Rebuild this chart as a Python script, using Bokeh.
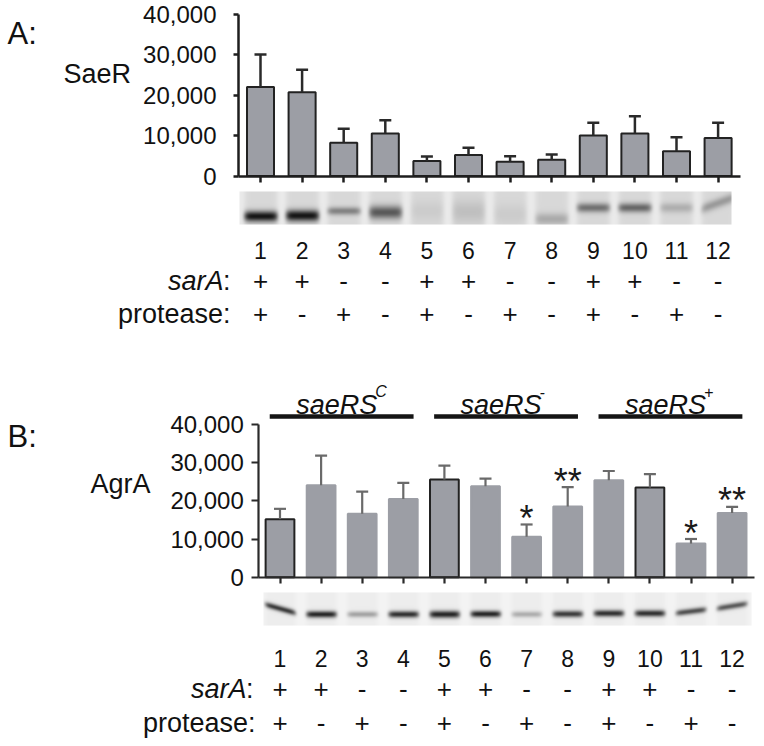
import numpy as np
from bokeh.plotting import figure
from bokeh.layouts import column
from bokeh.models import Range1d, LinearAxis, FixedTicker, NumeralTickFormatter
from bokeh.embed import file_html
from bokeh.resources import INLINE
from bokeh.core.properties import value

# ---------------- data ----------------
lanes = list(range(1, 13))
lane_labels = [str(i) for i in lanes]
sarA = ["+", "+", "-", "-", "+", "+", "-", "-", "+", "+", "-", "-"]
protease = ["+", "-", "+", "-", "+", "-", "+", "-", "+", "-", "+", "-"]
y_ticks = [0, 10000, 20000, 30000, 40000]

saeR_mean = [22000, 20700, 8200, 10500, 3700, 5200, 3500, 4000, 10000, 10500, 6100, 9400]
saeR_err = [8100, 5600, 3500, 3300, 1100, 1800, 1400, 1300, 3200, 4300, 3500, 3800]

agrA_mean = [15200, 24100, 16600, 20500, 25600, 23800, 10600, 18500, 25400, 23500, 8800, 16800]
agrA_err = [2700, 7700, 5800, 4200, 3600, 2000, 3200, 5100, 2400, 3500, 1200, 1600]
agrA_stars = ["", "", "", "", "", "", "*", "**", "", "", "*", "**"]
agrA_outlined = [True, False, False, False, True, False, False, False, False, True, False, False]

group_names = ["saeRS", "saeRS", "saeRS"]
group_sups = ["C", "-", "+"]
group_first = [1, 5, 9]
group_last = [4, 8, 12]

# western blot band descriptions (relative darkness, vertical position, thickness, tilt)
blotA_intensity = [0.95, 0.95, 0.42, 0.62, 0.06, 0.12, 0.06, 0.22, 0.5, 0.55, 0.2, 0.3]
blotA_position = [0.76, 0.74, 0.6, 0.64, 0.6, 0.62, 0.7, 0.84, 0.5, 0.5, 0.5, 0.36]
blotA_width = [0.16, 0.17, 0.12, 0.2, 0.3, 0.35, 0.3, 0.18, 0.14, 0.14, 0.15, 0.15]
blotA_tilt = [0, 0, 0, 0, 0, 0, 0, 0, 0, 0, 0, -0.45]

blotB_intensity = [0.85, 0.95, 0.35, 0.9, 0.95, 0.95, 0.3, 0.85, 0.9, 0.9, 0.75, 0.7]
blotB_position = [0.5, 0.67, 0.67, 0.67, 0.67, 0.66, 0.67, 0.66, 0.64, 0.64, 0.58, 0.42]
blotB_width = [0.09, 0.1, 0.09, 0.1, 0.11, 0.1, 0.09, 0.1, 0.1, 0.1, 0.09, 0.09]
blotB_tilt = [0.35, 0, 0, 0, 0, 0, 0, 0, 0, 0, -0.15, -0.2]

FONT = "Liberation Sans"
BAR_FILL = "#9c9ea5"
PAGE_W = 762


class Panel:
    """Maps reference-picture pixels to the panel's lane / value units."""
    def __init__(self, top, height, lane1_px, lane_step, zero_px, px_per_unit):
        self.top, self.height = top, height
        self.lane1_px, self.lane_step = lane1_px, lane_step
        self.zero_px, self.ppu = zero_px, px_per_unit

    def x(self, px):
        return 1 + (px - self.lane1_px) / self.lane_step

    def y(self, py):
        return (self.zero_px - py) / self.ppu

    def py(self, v):
        return self.zero_px - v * self.ppu

    def lw(self, px):
        return px / self.lane_step


def make_fig(P):
    p = figure(width=PAGE_W, height=P.height,
               x_range=Range1d(P.x(0), P.x(PAGE_W)),
               y_range=Range1d(P.y(P.top + P.height), P.y(P.top)),
               output_backend="svg", toolbar_location=None,
               x_axis_type=None, y_axis_type=None, min_border=0)
    p.outline_line_color = None
    p.background_fill_color = "white"
    p.border_fill_color = "white"
    return p


def txt(p, xs, ys, texts, size, align="center", baseline="middle", style="normal", color="#111111"):
    p.text(x=xs, y=ys, text=texts, text_font=value(FONT), text_font_size=f"{size}px",
           text_align=align, text_baseline=baseline, text_font_style=style, text_color=color)


def axes(p, P, axis_px, right_px, standoff, tick_len, width, color):
    yax = LinearAxis(fixed_location=P.x(axis_px), bounds=(0, 40000),
                     ticker=FixedTicker(ticks=y_ticks),
                     formatter=NumeralTickFormatter(format="0,0"))
    yax.major_label_text_font = FONT
    yax.major_label_text_font_size = "24px"
    yax.major_label_text_color = "#111111"
    yax.major_tick_out = tick_len
    yax.major_tick_in = 0
    yax.minor_tick_line_color = None
    yax.axis_line_width = width
    yax.major_tick_line_width = width
    yax.axis_line_color = color
    yax.major_tick_line_color = color
    yax.major_label_standoff = standoff
    p.add_layout(yax, "left")

    xax = LinearAxis(fixed_location=0, bounds=(P.x(axis_px), P.x(right_px)),
                     ticker=FixedTicker(ticks=lanes),
                     major_label_overrides={float(i): "" for i in lanes})
    xax.major_tick_out = 6
    xax.major_tick_in = 0
    xax.minor_tick_line_color = None
    xax.axis_line_width = width
    xax.major_tick_line_width = width
    xax.axis_line_color = color
    xax.major_tick_line_color = color
    p.add_layout(xax, "below")


def blot(p, P, x0px, x1px, y0px, y1px, intens, pos, thick, tilt, hw, bg, lane_bg, dark):
    nx = int(x1px - x0px) * 2
    ny = int(y1px - y0px) * 2
    xs = np.linspace(P.x(x0px), P.x(x1px), nx)
    fr = (np.arange(ny) + 0.5) / ny
    X, F = np.meshgrid(xs, fr)
    shade = np.zeros_like(X)
    lanemask = np.zeros_like(X)
    for i, lane in enumerate(lanes):
        w = np.exp(-((X - lane) / hw) ** 8)
        lanemask = np.maximum(lanemask, w)
        c = pos[i] + tilt[i] * (X - lane)
        band = np.exp(-((F - c) / thick[i]) ** 2)
        shade = np.maximum(shade, intens[i] * w * band)
    g = bg - (bg - lane_bg) * lanemask
    g = g - (g - dark) * shade
    gi = np.clip(g * 255, 0, 255).astype(np.uint32)
    img = (np.uint32(255) << np.uint32(24)) | (gi << np.uint32(16)) | (gi << np.uint32(8)) | gi
    img = np.ascontiguousarray(img[::-1]).astype(np.uint32)
    p.image_rgba(image=[img], x=P.x(x0px), y=P.y(y1px),
                 dw=P.x(x1px) - P.x(x0px), dh=P.y(y0px) - P.y(y1px))


def bottom_labels(p, P, num_py, sar_py, prot_py, sar_right, prot_right):
    txt(p, lanes, [P.y(num_py)] * 12, lane_labels, 23)
    txt(p, lanes, [P.y(sar_py)] * 12, sarA, 26)
    txt(p, lanes, [P.y(prot_py)] * 12, protease, 26)
    txt(p, [P.x(sar_right - 7)], [P.y(sar_py)], ["sarA"], 27, align="right", style="italic")
    txt(p, [P.x(sar_right)], [P.y(sar_py)], [":"], 27, align="right")
    txt(p, [P.x(prot_right)], [P.y(prot_py)], ["protease:"], 27, align="right")


# ---------------- panel A ----------------
PA = Panel(top=0, height=366, lane1_px=260, lane_step=41.6, zero_px=175.5, px_per_unit=0.00404)
pa = make_fig(PA)

blot(pa, PA, 239, 731, 191, 224, blotA_intensity, blotA_position, blotA_width, blotA_tilt,
     hw=0.4, bg=0.92, lane_bg=0.85, dark=0.04)

pa.vbar(x=lanes, top=saeR_mean, bottom=0, width=0.65, fill_color=BAR_FILL,
        line_color="#222222", line_width=2)
topsA = [m + e for m, e in zip(saeR_mean, saeR_err)]
pa.segment(x0=lanes, y0=saeR_mean, x1=lanes, y1=topsA, line_color="#2a2a2a", line_width=2.5)
capA = PA.lw(12) / 2
pa.segment(x0=[l - capA for l in lanes], y0=topsA, x1=[l + capA for l in lanes], y1=topsA,
           line_color="#2a2a2a", line_width=2.5)

axes(pa, PA, axis_px=238, right_px=740, standoff=17, tick_len=5, width=2.5, color="#1e1e1e")

txt(pa, [PA.x(7)], [PA.y(33)], ["A:"], 31, align="left")
txt(pa, [PA.x(63)], [PA.y(73)], ["SaeR"], 27, align="left")
bottom_labels(pa, PA, 250, 280, 313, 230, 230)

# ---------------- panel B ----------------
PB = Panel(top=366, height=378, lane1_px=279.5, lane_step=41.1, zero_px=576.7, px_per_unit=0.00382)
pb = make_fig(PB)

blot(pb, PB, 263, 751, 592, 625, blotB_intensity, blotB_position, blotB_width, blotB_tilt,
     hw=0.37, bg=0.955, lane_bg=0.93, dark=0.1)

line_cols = ["#222222" if o else BAR_FILL for o in agrA_outlined]
pb.vbar(x=lanes, top=agrA_mean, bottom=0, width=0.7, fill_color=BAR_FILL,
        line_color=line_cols, line_width=2)
topsB = [m + e for m, e in zip(agrA_mean, agrA_err)]
pb.segment(x0=lanes, y0=agrA_mean, x1=lanes, y1=topsB, line_color="#6a6a6a", line_width=2.2)
capB = PB.lw(12) / 2
pb.segment(x0=[l - capB for l in lanes], y0=topsB, x1=[l + capB for l in lanes], y1=topsB,
           line_color="#6a6a6a", line_width=2.2)

star_y = [PB.y(PB.py(t) - 6) for t in topsB]
txt(pb, lanes, star_y, agrA_stars, 36, baseline="middle", color="#1a1a1a")

axes(pb, PB, axis_px=258.3, right_px=754, standoff=8, tick_len=7, width=2.2, color="#2a2a2a")

# group header bars and labels
g0 = [f - 0.25 for f in group_first]
g1 = [l + 0.25 for l in group_last]
pb.segment(x0=g0, y0=[PB.y(416)] * 3, x1=g1, y1=[PB.y(416)] * 3, line_color="#151515", line_width=4.5)
main_w = PB.lw(3.0 * 27)
sup_w = PB.lw(10)
main_x = [(a + b) / 2 - (main_w + sup_w) / 2 for a, b in zip(g0, g1)]
txt(pb, main_x, [PB.y(404)] * 3, group_names, 27, align="left", baseline="alphabetic", style="italic")
txt(pb, [m + main_w - PB.lw(2) for m in main_x], [PB.y(391)] * 3, group_sups, 16,
    align="left", baseline="alphabetic", style="italic")

txt(pb, [PB.x(7)], [PB.y(436)], ["B:"], 31, align="left")
txt(pb, [PB.x(90)], [PB.y(483)], ["AgrA"], 27, align="left")
bottom_labels(pb, PB, 658, 688, 722, 253, 255)

layout = column(pa, pb, spacing=0)
open("out.html", "w").write(file_html(layout, INLINE))
